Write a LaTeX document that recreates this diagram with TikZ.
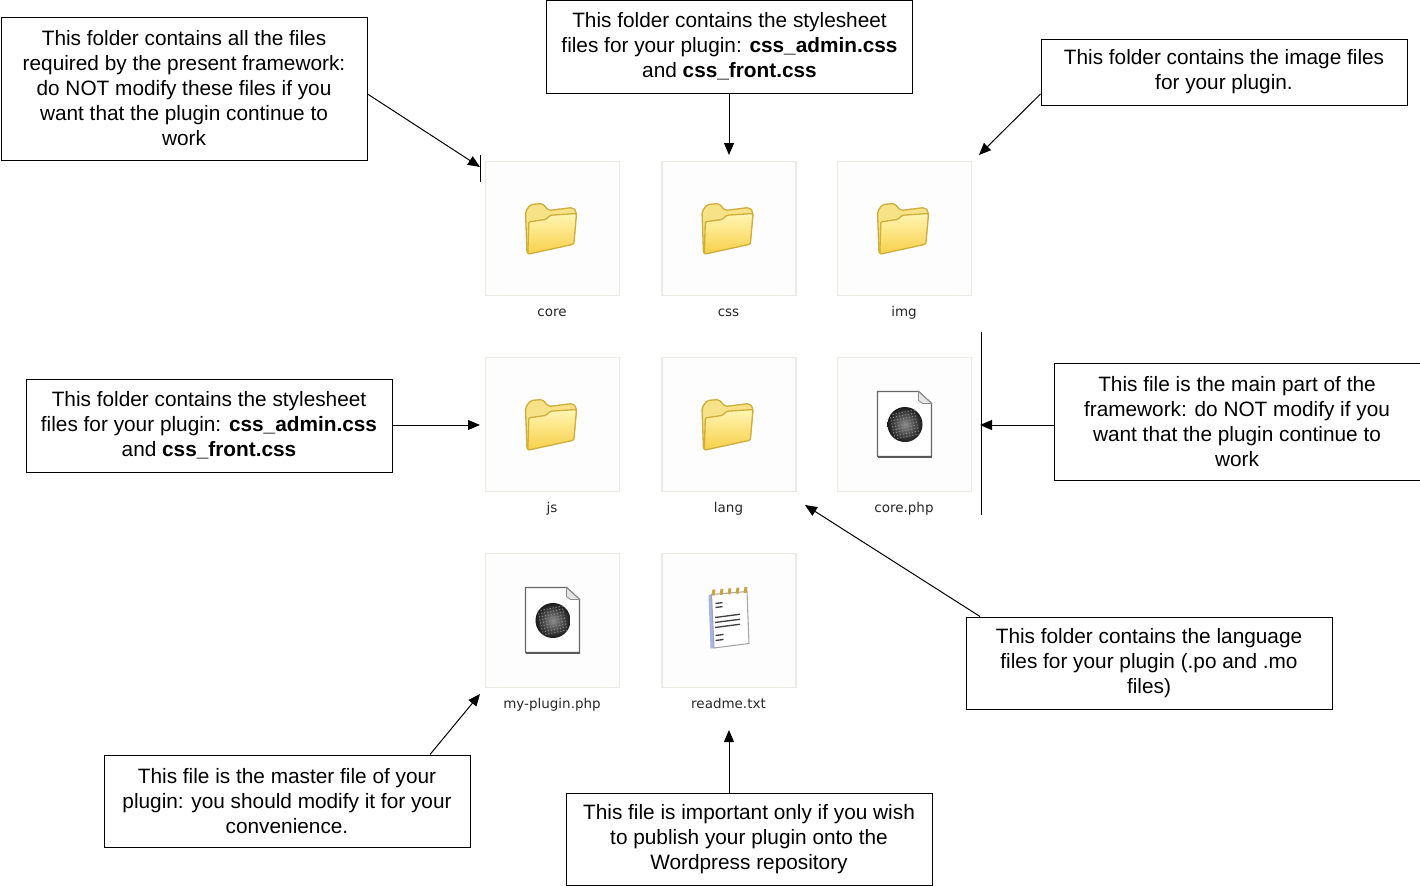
\documentclass[tikz,border=0pt]{standalone}
\usepackage{fontspec}
\setmainfont{Liberation Sans}
\newfontfamily\iconfont{DejaVu Sans}
\usetikzlibrary{arrows.meta}

\definecolor{tileedge}{HTML}{ECEBE3}
\definecolor{tilefill}{HTML}{FDFDFD}
\definecolor{folderedge}{HTML}{CFAE3C}
\definecolor{folderback}{HTML}{F8E288}
\definecolor{folderlight}{HTML}{FFF5B4}
\definecolor{folderdark}{HTML}{F8D048}
\definecolor{padblue}{HTML}{A9B2E4}
\definecolor{padgold}{HTML}{C9A440}

\tikzset{
  notebox/.style={draw=black, line width=0.75pt, fill=white, align=center, font=\fontsize{15.6}{18.75}\selectfont,
    minimum width=274.5pt, inner sep=0pt},
  notearrow/.style={line width=0.75pt, -{Triangle[length=9pt,width=7.5pt]}},
  iconlabel/.style={font=\iconfont\fontsize{10.1}{11}\selectfont, text=black!85, inner sep=0pt, anchor=base},
  tilebox/.style={draw=tileedge, line width=0.9pt, fill=tilefill, minimum width=100.5pt, minimum height=100.5pt, inner sep=0pt},
  pics/folder/.style={code={
    \draw[folderedge, line width=1pt, fill=folderback, rounded corners=1.5pt]
      (-25.5,25) -- (-27,-17) -- (-22,-24) -- (-10,-25) -- (-4,-18) -- (20,-21) -- (24,-17) -- (21,15) -- cycle;
    \draw[folderedge, line width=1pt, top color=folderlight, bottom color=folderdark, rounded corners=1pt]
      (-24.7,25.7) -- (21.3,15.7) -- (24,-15) -- (-2,-13.3) -- (-7,-9) -- (-23.7,-6.7) -- cycle;
  }},
  pics/phpfile/.style={code={
    \draw[black!60, line width=1.1pt, fill=white]
      (-27,-33) -- (14,-33) -- (27,-21) -- (27,32) -- (-27,32) -- cycle;
    \draw[black!65, line width=1.5pt] (-27,32) -- (27,32);
    \draw[black!45, line width=0.6pt, fill=black!10] (14,-33) -- (14,-24) -- (18,-21) -- (27,-21) -- cycle;
    \shade[inner color=black!45, outer color=black!90] (0.5,0) circle (17.5);
    \foreach \i in {-12,-9,...,12}
      \foreach \j in {-12,-9,...,12}
        \fill[white!55!black] (\i+\j*0.2,\j-\i*0.2) circle (0.7);
  }},
  pics/notepad/.style={code={
    \fill[padblue] (-20.5,-25) -- (-16,-27) -- (-14,27.5) -- (-18.5,28) -- cycle;
    \draw[black!35, line width=0.8pt, fill=white] (-17.5,-26) -- (18,-29) -- (20,23) -- (-15,27.5) -- cycle;
    \foreach \i in {0,...,4}
      \draw[padgold, line width=2.2pt] (-16+\i*8,-25-\i*0.6) -- (-15+\i*8,-31-\i*0.6);
    \foreach \i/\j/\len in {-13.5/-17/7,-13.5/-13/7,-14/-3/25,-14/2/25,-14/7/25,-13.5/15/8,-13.5/20/8}
      \draw[black!75, line width=1pt] (\i,\j) -- ++(\len,-0.13*\len);
  }}
}

\begin{document}
\begin{tikzpicture}[x=0.75pt,y=-0.75pt]
    \useasboundingbox (0,0) rectangle (1420,885);

    % icon tiles
    \foreach \name/\x/\y/\icon/\txt in {core/552.5/228.5/folder/core, css/729/228.5/folder/css, img/904.5/228.5/folder/img,
        js/552.5/424.5/folder/js, lang/729/424.5/folder/lang, corephp/904.5/424.5/phpfile/core.php,
        plugin/552.5/620.5/phpfile/my-plugin.php, readme/729/620.5/notepad/readme.txt} {
        \node[tilebox] (tile\name) at (\x,\y) {};
        \pic at (\x,\y) {\icon};
        \node[iconlabel] (label\name) at (\x-0.5,\y+88) {\txt};
    }

    % thin rules beside the tiles
    \coordinate (ruleA) at (480,155);
    \coordinate (ruleB) at (480,182);
    \coordinate (ruleC) at (981,332);
    \coordinate (ruleD) at (981,515);
    \draw[line width=0.75pt] (ruleA) -- (ruleB);
    \draw[line width=0.75pt] (ruleC) -- (ruleD);

    % notes
    \node[notebox, minimum height=107.25pt] (noteCore) at (184,88.5) {This folder contains all the files\\required by the present framework:\\do NOT modify these files if you\\want that the plugin continue to\\work};
    \node[notebox, minimum height=69.75pt] (noteCss) at (729.5,46.5) {This folder contains the stylesheet\\files for your plugin: \textbf{css\_admin.css}\\and \textbf{css\_front.css}};
    \node[notebox, minimum height=49.5pt] (noteImg) at (1224,72) {This folder contains the image files\\for your plugin.};
    \node[notebox, minimum height=69.75pt] (noteJs) at (209,425.5) {This folder contains the stylesheet\\files for your plugin: \textbf{css\_admin.css}\\and \textbf{css\_front.css}};
    \node[notebox, minimum height=87.75pt] (noteMain) at (1237,421.5) {This file is the main part of the\\framework: do NOT modify if you\\want that the plugin continue to\\work};
    \node[notebox, minimum height=69pt] (noteLang) at (1149,663) {This folder contains the language\\files for your plugin (.po and .mo\\files)};
    \node[notebox, minimum height=69pt] (noteMaster) at (287,801) {This file is the master file of your\\plugin: you should modify it for your\\convenience.};
    \node[notebox, minimum height=69pt] (noteReadme) at (749,839) {This file is important only if you wish\\to publish your plugin onto the\\Wordpress repository};

    % arrow tips
    \coordinate (tipCore) at (480,167);
    \coordinate (tipCss) at (729,155);
    \coordinate (tipImg) at (979,155);
    \coordinate (tipJs) at (480,425);
    \coordinate (tipMain) at (980,425);
    \coordinate (tipLang) at (805,505);
    \coordinate (tipMaster) at (480,694);
    \coordinate (tipReadme) at (729,730);

    % arrows
    \draw[notearrow] ([yshift=-4.1pt]noteCore.east) -- (tipCore);
    \draw[notearrow] (noteCss.south -| tipCss) -- (tipCss);
    \draw[notearrow] ([yshift=-16.5pt]noteImg.west) -- (tipImg);
    \draw[notearrow] (noteJs.east |- tipJs) -- (tipJs);
    \draw[notearrow] (noteMain.west |- tipMain) -- (tipMain);
    \draw[notearrow] ([xshift=-126.75pt]noteLang.north) -- (tipLang);
    \draw[notearrow] ([xshift=107.25pt]noteMaster.north) -- (tipMaster);
    \draw[notearrow] (noteReadme.north -| tipReadme) -- (tipReadme);
\end{tikzpicture}
\end{document}
